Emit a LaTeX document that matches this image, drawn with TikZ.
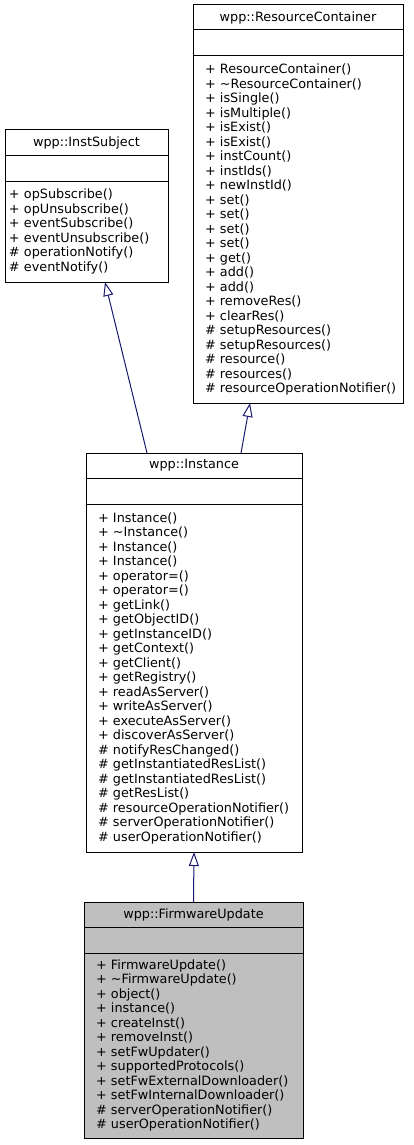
\documentclass[tikz,border=0pt]{standalone}
\usepackage{fontspec}
\setmainfont{DejaVu Sans}
\usetikzlibrary{arrows.meta,positioning,calc}
\definecolor{dxblue}{HTML}{191970}
\definecolor{dxgray}{HTML}{BFBFBF}
\newcommand{\dxfont}{\fontsize{12.8}{14.5}\selectfont}
\newcommand{\tl}{\textasciitilde}

\begin{document}
\begin{tikzpicture}[x=1pt,y=-1pt,
  cls/.style={draw=black,line width=1pt,inner sep=0pt,outer sep=0pt,
              fill=white,anchor=north west},
  clsname/.style={cls,font=\dxfont,minimum height=25},
  clsattr/.style={cls,minimum height=26},
  clsops/.style={cls,font=\dxfont,align=left,inner xsep=3,
                 execute at begin node={\hyphenpenalty=10000\leftskip=#1pt}},
  inherit/.style={dxblue,line width=1pt,
                  -{Triangle[length=14,width=10,fill=white]}}
]
\useasboundingbox (0,0) rectangle (413,1145);

% ---- wpp::InstSubject --------------------------------------
\node[clsname,minimum width=163] (subjname) at (5,130) {wpp::InstSubject};
\node[clsattr,minimum width=163] (subjattr) at (subjname.south west) {};
\node[clsops=1,minimum width=163,minimum height=101,text width=157]
  (subjops) at (subjattr.south west)
  {+ opSubscribe()\\+ opUnsubscribe()\\+ eventSubscribe()\\
   + eventUnsubscribe()\\\# operationNotify()\\\# eventNotify()};

% ---- wpp::ResourceContainer --------------------------------
\node[clsname,minimum width=210] (resname) at (193,5) {wpp::ResourceContainer};
\node[clsattr,minimum width=210] (resattr) at (resname.south west) {};
\node[clsops=9,minimum width=210,minimum height=347,text width=204]
  (resops) at (resattr.south west)
  {+ ResourceContainer()\\+ \tl ResourceContainer()\\+ isSingle()\\
   + isMultiple()\\+ isExist()\\+ isExist()\\+ instCount()\\+ instIds()\\
   + newInstId()\\+ set()\\+ set()\\+ set()\\+ set()\\+ get()\\+ add()\\
   + add()\\+ removeRes()\\+ clearRes()\\\# setupResources()\\
   \# setupResources()\\\# resource()\\\# resources()\\
   \# resourceOperationNotifier()};

% ---- wpp::Instance -----------------------------------------
\node[clsname,minimum width=216] (instname) at (86,453) {wpp::Instance};
\node[clsattr,minimum width=216] (instattr) at (instname.south west) {};
\node[clsops=9,minimum width=216,minimum height=348,text width=210]
  (instops) at (instattr.south west)
  {+ Instance()\\+ \tl Instance()\\+ Instance()\\+ Instance()\\
   + operator=()\\+ operator=()\\+ getLink()\\+ getObjectID()\\
   + getInstanceID()\\+ getContext()\\+ getClient()\\+ getRegistry()\\
   + readAsServer()\\+ writeAsServer()\\+ executeAsServer()\\
   + discoverAsServer()\\\# notifyResChanged()\\
   \# getInstantiatedResList()\\\# getInstantiatedResList()\\
   \# getResList()\\\# resourceOperationNotifier()\\
   \# serverOperationNotifier()\\\# userOperationNotifier()};

% ---- wpp::FirmwareUpdate -----------------------------------
\node[clsname,fill=dxgray,minimum width=219] (fwname) at (84,902) {wpp::FirmwareUpdate};
\node[clsattr,fill=dxgray,minimum width=219] (fwattr) at (fwname.south west) {};
\node[clsops=9,fill=dxgray,minimum width=219,minimum height=185,text width=213]
  (fwops) at (fwattr.south west)
  {+ FirmwareUpdate()\\+ \tl FirmwareUpdate()\\+ object()\\+ instance()\\
   + createInst()\\+ removeInst()\\+ setFwUpdater()\\
   + supportedProtocols()\\+ setFwExternalDownloader()\\
   + setFwInternalDownloader()\\\# serverOperationNotifier()\\
   \# userOperationNotifier()};

% ---- Inheritance edges -------------------------------------
\draw[inherit] ($(instname.north)+(-47,0)$) -- ($(subjops.south)+(18.5,0)$);
\draw[inherit] ($(instname.north)+(47,0)$)  -- ($(resops.south)+(-48,0)$);
\draw[inherit] (fwname.north) -- (instops.south);

\end{tikzpicture}
\end{document}
